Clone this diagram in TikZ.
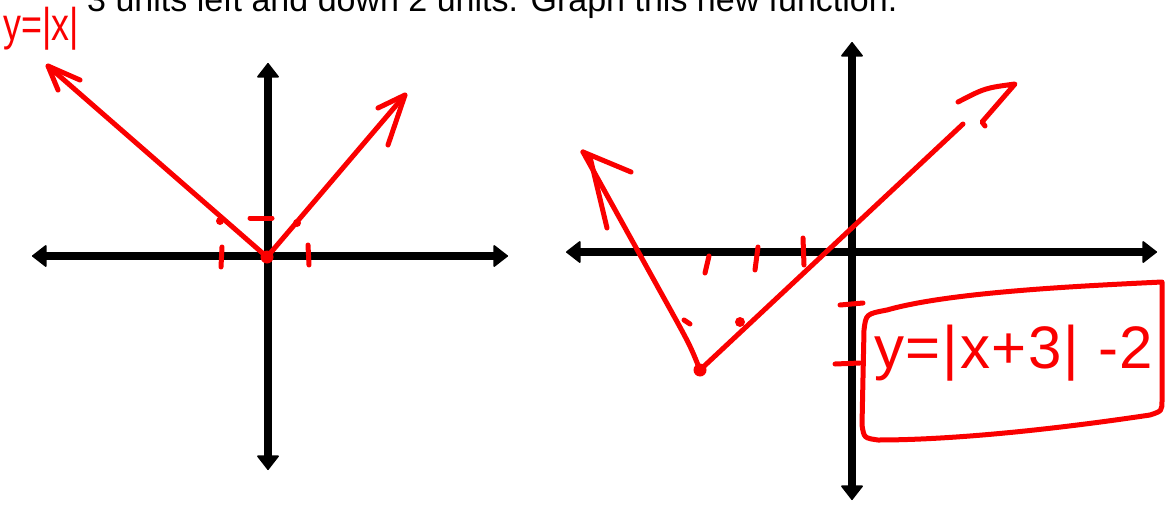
\documentclass[tikz,border=0pt]{standalone}
\usepackage{fontspec}
\setmainfont{Liberation Sans}
\usetikzlibrary{arrows.meta}
\definecolor{penred}{RGB}{250,0,0}
\tikzset{>={Triangle[round,length=15pt,width=23pt,line width=1.5pt]},
 axis/.style={<->,line width=8.5pt},
 pen/.style={penred,line width=5pt,line cap=round,line join=round},
 tick/.style={pen,line width=5pt},
 every node/.style={inner sep=0pt}}

\begin{document}
\begin{tikzpicture}[x=1pt,y=-1pt]
\useasboundingbox (0,0) rectangle (1168,506);
\clip (0,0) rectangle (1168,506);
\node[anchor=base west,font=\fontsize{34}{36}\selectfont] (task) at (87,12)
 {3 units left and down 2 units. Graph this new function.};
% left graph: y=|x|
\draw[axis] (32,256)--(508,256);
\draw[axis] (268,63)--(268,470);
\coordinate (vL) at (267,257);
\draw[pen] (48,66)--(vL)--(405,95);
\draw[pen] (80,80)--(48,66)--(58,90);
\draw[pen] (378,108)--(405,95)--(388,145);
\draw[tick] (222,247)--(221,267);
\draw[tick] (308,245)--(309,265);
\draw[tick] (250,218)--(272,218);
\fill[penred] (vL) circle (6.5pt);
\fill[penred] (220,221) circle (4pt);
\fill[penred] (297,223) circle (4pt);
\node[penred,anchor=base west,font=\fontsize{46}{46}\selectfont] (lblL) at (3,40) {\scalebox{0.78}[1]{y=|x|}};
% right graph: shifted
\draw[axis] (566,252)--(1157,252);
\draw[axis] (852,42)--(852,500);
\coordinate (vR) at (700,370);
\draw[pen] (583,152)--(665,300) .. controls (690,345) .. (vR)--(963,124);
\draw[pen] (583,152)--(631,172);
\draw[pen] (590,157)--(607,228);
\draw[pen] (958,102) .. controls (985,88) .. (1015,84)--(982,122)--(985,126);
\draw[tick] (709,256)--(705,273);
\draw[tick] (758,247)--(755,270);
\draw[tick] (803,238)--(804,265);
\draw[tick] (840,305)--(863,303);
\draw[tick] (835,364)--(860,363);
\draw[tick] (684,320)--(690,324);
\fill[penred] (vR) circle (6.5pt);
\fill[penred] (740,322) circle (5pt);
% boxed equation
\draw[pen] (887,310) .. controls (950,292) and (1080,286) .. (1162,282)
 --(1162,400) .. controls (1162,411) .. (1150,415)
 .. controls (1050,430) and (950,440) .. (878,440)
 .. controls (864,438) .. (862,425)--(864,330) .. controls (866,314) .. (887,310);
\node[penred,anchor=base west,font=\fontsize{60}{60}\selectfont\addfontfeature{LetterSpace=3}] (eqn) at (874,368) {y=|x+3| -2};
\end{tikzpicture}
\end{document}
